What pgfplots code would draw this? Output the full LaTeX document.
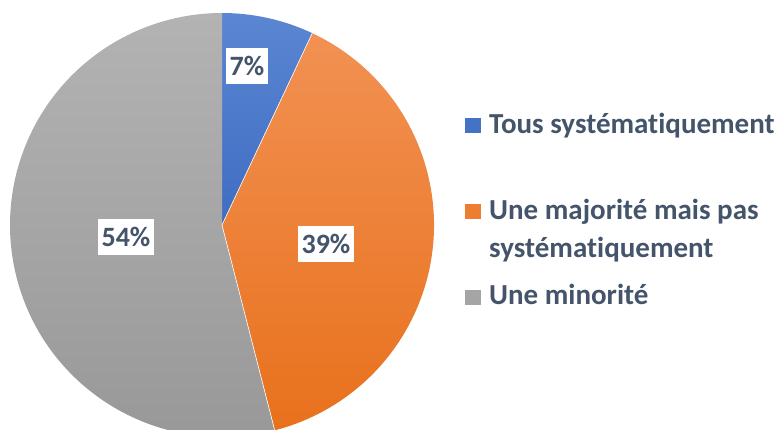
\documentclass[border=0pt]{standalone}
\usepackage{fontspec}
\setmainfont{Carlito}[Ligatures=NoCommon]
\usepackage{pgfplots}
\pgfplotsset{compat=1.18}
\definecolor{txt}{HTML}{44546A}
\definecolor{cblueT}{HTML}{5A86D2}
\definecolor{cblueB}{HTML}{3F6DC2}
\definecolor{corangeT}{HTML}{F29153}
\definecolor{corangeB}{HTML}{E8711C}
\definecolor{cgrayT}{HTML}{B3B3B3}
\definecolor{cgrayB}{HTML}{979797}
\definecolor{cblue}{HTML}{4472C4}
\definecolor{corange}{HTML}{ED7D31}
\definecolor{cgray}{HTML}{A5A5A5}

% shares (%)
\def\vA{7}\def\vB{39}\def\vC{54}
\pgfmathsetmacro{\aA}{90}
\pgfmathsetmacro{\aB}{\aA-3.6*\vA}
\pgfmathsetmacro{\aC}{\aB-3.6*\vB}
\pgfmathsetmacro{\aD}{\aC-3.6*\vC}
\def\cx{222}\def\cy{205}\def\rr{212bp}

\begin{document}
\begin{tikzpicture}
\begin{axis}[at={(0,0)},anchor=origin,x=1bp,y=1bp,xmin=0,xmax=783,ymin=0,ymax=430,
  axis lines=none,scale only axis,clip=true]
  \shade[top color=cblueT,bottom color=cblueB] (axis cs:\cx,\cy) -- ++(\aA:\rr) arc[start angle=\aA,end angle=\aB,radius=\rr] -- cycle;
  \shade[top color=corangeT,bottom color=corangeB] (axis cs:\cx,\cy) -- ++(\aB:\rr) arc[start angle=\aB,end angle=\aC,radius=\rr] -- cycle;
  \shade[top color=cgrayT,bottom color=cgrayB] (axis cs:\cx,\cy) -- ++(\aC:\rr) arc[start angle=\aC,end angle=\aD,radius=\rr] -- cycle;
  \draw[white,line width=0.6bp] (axis cs:\cx,\cy) -- ++(\aB:\rr);
  \draw[white,line width=0.6bp] (axis cs:\cx,\cy) -- ++(\aC:\rr);
  % percentage labels
  \tikzset{pl/.style={fill=white,text=txt,font=\fontsize{28bp}{30bp}\selectfont\bfseries,
    inner xsep=4bp,inner ysep=9bp,text height=18.5bp,text depth=0bp}}
  \node[pl] at (axis cs:247,364) {\vA\%};
  \node[pl] at (axis cs:326,186) {\vB\%};
  \node[pl] at (axis cs:126,193) {\vC\%};
  % legend
  \tikzset{lt/.style={anchor=base west,inner sep=0pt,text=txt,font=\fontsize{29bp}{34bp}\selectfont\bfseries}}
  \fill[cblue] (axis cs:465,297) rectangle (axis cs:480.5,312);
  \fill[corange] (axis cs:465,211) rectangle (axis cs:480.5,226);
  \fill[cgray] (axis cs:465,125) rectangle (axis cs:480.5,139.5);
  \node[lt] at (axis cs:489,297) {Tous systématiquement};
  \node[lt] at (axis cs:489,211) {Une majorité mais pas};
  \node[lt] at (axis cs:489,173) {systématiquement};
  \node[lt] at (axis cs:489,126) {Une minorité};
\end{axis}
\pgfresetboundingbox
\path (0,0) rectangle (783bp,430bp);
\end{tikzpicture}
\end{document}
